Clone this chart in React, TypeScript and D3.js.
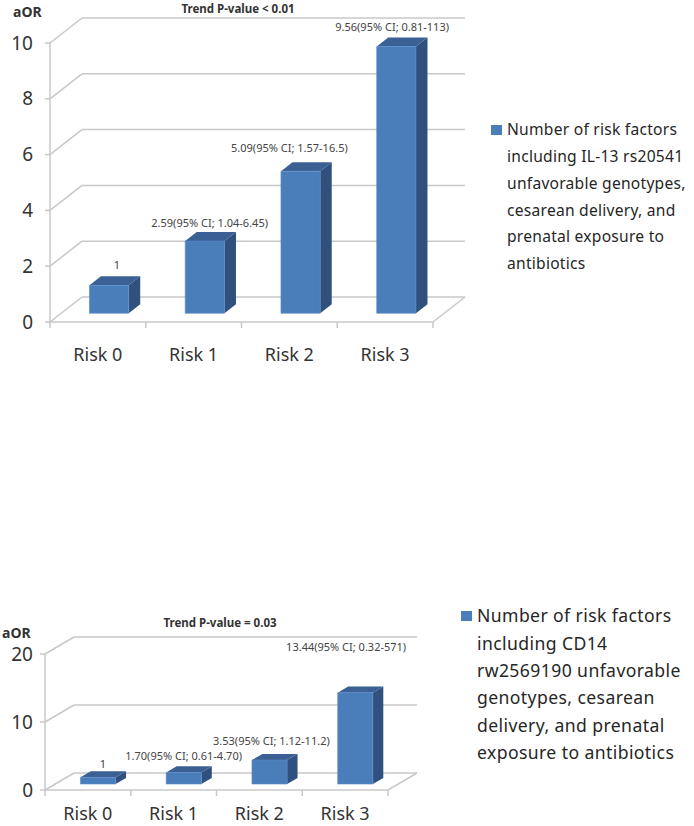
import React from 'react';
import * as d3 from 'd3';

// categories and values
const categories = ['Risk 0', 'Risk 1', 'Risk 2', 'Risk 3'];

const aorIL13 = [1, 2.59, 5.09, 9.56];
const labelsIL13 = ['1', '2.59(95% CI; 1.04-6.45)', '5.09(95% CI; 1.57-16.5)', '9.56(95% CI; 0.81-113)'];
const ticksIL13 = [0, 2, 4, 6, 8, 10];
const legendIL13 = [
  'Number of risk factors',
  'including IL-13 rs20541',
  'unfavorable genotypes,',
  'cesarean delivery, and',
  'prenatal exposure to',
  'antibiotics',
];

const aorCD14 = [1, 1.7, 3.53, 13.44];
const labelsCD14 = ['1', '1.70(95% CI; 0.61-4.70)', '3.53(95% CI; 1.12-11.2)', '13.44(95% CI; 0.32-571)'];
const ticksCD14 = [0, 10, 20];
const legendCD14 = [
  'Number of risk factors',
  'including CD14',
  'rw2569190 unfavorable',
  'genotypes, cesarean',
  'delivery, and prenatal',
  'exposure to antibiotics',
];

const FONT = '"Noto Sans", "DejaVu Sans", sans-serif';
const GRID = '#c8c8c8';
const FRONT = '#4a7ebb';
const SIDE = '#30517d';
const TOP = '#3b6094';

type ChartProps = {
  values: number[];
  labels: string[];
  ticks: number[];
  title: string;
  legend: string[];
  x0: number; x1: number; y0: number; y1: number;
  dx: number; dy: number;
  labelDx: number[]; labelDy: number[];
  catY: number; tickX: number;
  aorX: number; aorY: number; titleX: number; titleY: number;
  legX: number; legY: number; legStep: number; legSize: number; legSpacing: number;
};

function Chart3D(p: ChartProps) {
  const yMax = p.ticks[p.ticks.length - 1];
  const x = d3.scaleBand().domain(categories).range([p.x0, p.x1]);
  const y = d3.scaleLinear().domain([0, yMax]).range([p.y0, p.y1]);
  const bw = x.step() * 0.41;
  const d0 = 0.35, d1 = 0.71;
  const pt = (px: number, v: number, d: number) => [px + d * p.dx, y(v) + d * p.dy];
  const poly = (pts: number[][]) => pts.map(q => q.join(',')).join(' ');

  return (
    <g fontFamily={FONT}>
      {/* walls */}
      {p.ticks.map(t => (
        <g key={t}>
          <line x1={p.x0} y1={y(t)} x2={p.x0 + p.dx} y2={y(t) + p.dy} stroke={GRID} strokeWidth={1.5} />
          <line x1={p.x0 + p.dx} y1={y(t) + p.dy} x2={p.x1 + p.dx} y2={y(t) + p.dy} stroke={GRID} strokeWidth={1.5} />
          <line x1={p.x0 - 5} y1={y(t)} x2={p.x0} y2={y(t)} stroke={GRID} strokeWidth={1.5} />
          <text x={p.tickX} y={y(t)} dy="0.35em" textAnchor="end" fontSize={19} fill="#333">{t}</text>
        </g>
      ))}
      <line x1={p.x1} y1={p.y0} x2={p.x1 + p.dx} y2={p.y0 + p.dy} stroke={GRID} strokeWidth={1.5} />
      <line x1={p.x0} y1={p.y0} x2={p.x1} y2={p.y0} stroke={GRID} strokeWidth={1.5} />
      <line x1={p.x0} y1={p.y0} x2={p.x0} y2={y(yMax)} stroke={GRID} strokeWidth={1.5} />
      {d3.range(categories.length + 1).map(i => {
        const cx = p.x0 + i * x.step();
        return <line key={i} x1={cx} y1={p.y0} x2={cx} y2={p.y0 + 6} stroke={GRID} strokeWidth={1.5} />;
      })}

      {/* bars */}
      {p.values.map((v, i) => {
        const c = categories[i];
        const left = (x(c) as number) + x.bandwidth() / 2 - bw / 2;
        const right = left + bw;
        const front = [pt(left, 0, d0), pt(right, 0, d0), pt(right, v, d0), pt(left, v, d0)];
        const side = [pt(right, 0, d0), pt(right, 0, d1), pt(right, v, d1), pt(right, v, d0)];
        const top = [pt(left, v, d0), pt(right, v, d0), pt(right, v, d1), pt(left, v, d1)];
        const topBack = pt(left + bw / 2, v, d1);
        return (
          <g key={c}>
            <polygon points={poly(side)} fill={SIDE} />
            <polygon points={poly(top)} fill={TOP} />
            <polygon points={poly(front)} fill={FRONT} stroke="#5b8ccb" strokeWidth={0.6} />
            <text x={(x(c) as number) + x.bandwidth() / 2 + p.labelDx[i]} y={topBack[1] + p.labelDy[i]}
              dy="0.35em" textAnchor="middle" fontSize={11} fill="#444">{p.labels[i]}</text>
          </g>
        );
      })}

      {categories.map(c => (
        <text key={c} x={(x(c) as number) + x.bandwidth() / 2} y={p.catY} dy="0.35em"
          textAnchor="middle" fontSize={18} fill="#333">{c}</text>
      ))}

      <text x={p.aorX} y={p.aorY} dy="0.35em" fontSize={14} fontWeight="bold" fill="#333">aOR</text>
      <text x={p.titleX} y={p.titleY} dy="0.35em" textAnchor="middle" fontSize={11.5} fontWeight="bold" fill="#333">{p.title}</text>

      {/* legend */}
      <rect x={p.legX - 16} y={p.legY - 5} width={11} height={10} fill={FRONT} />
      {p.legend.map((l, i) => (
        <text key={i} x={p.legX} y={p.legY + i * p.legStep} dy="0.35em" fontSize={p.legSize}
          letterSpacing={p.legSpacing} fill="#262626">{l}</text>
      ))}
    </g>
  );
}

export default function App() {
  return (
    <svg width={694} height={826} style={{ position: 'absolute', left: 0, top: 0, background: '#fff' }}>
      <Chart3D values={aorIL13} labels={labelsIL13} ticks={ticksIL13} title="Trend P-value < 0.01" legend={legendIL13}
        x0={50} x1={433} y0={322} y1={43} dx={32} dy={-25}
        labelDx={[19, 16, 0, 7]} labelDy={[-11, -9, -14, -10.5]}
        catY={355} tickX={33} aorX={13} aorY={12} titleX={238} titleY={9}
        legX={507} legY={130} legStep={26.7} legSize={15.6} legSpacing={0.25} />
      <Chart3D values={aorCD14} labels={labelsCD14} ticks={ticksCD14} title="Trend P-value = 0.03" legend={legendCD14}
        x0={45} x1={388} y0={790} y1={654} dx={29} dy={-17}
        labelDx={[15, 10, 12, 1]} labelDy={[-7, -10, -13, -39]}
        catY={814} tickX={33} aorX={2} aorY={633} titleX={220} titleY={623}
        legX={477} legY={616} legStep={27.4} legSize={17.6} legSpacing={0.4} />
    </svg>
  );
}
